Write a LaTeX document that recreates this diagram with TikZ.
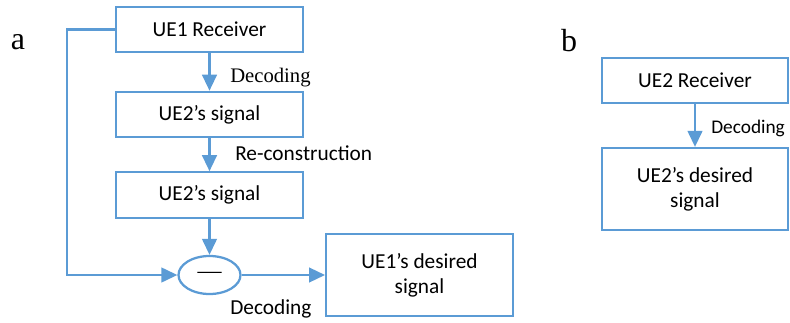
\documentclass[tikz,border=0pt]{standalone}
\usepackage{fontspec}
\setmainfont{Carlito}
\newfontfamily\tmsfont{Liberation Serif}
\usetikzlibrary{arrows.meta,shapes.geometric}
\definecolor{cline}{RGB}{91,155,213}
\tikzset{
  blk/.style={draw=cline,line width=1.7pt,minimum width=140pt,minimum height=34pt,align=center,font=\fontsize{16}{18.5}\selectfont},
  tallblk/.style={blk,minimum height=61.5pt},
  lab/.style={inner sep=0pt,anchor=base west,font=\fontsize{16}{18}\selectfont},
  arr/.style={draw=cline,line width=1.7pt,-{Triangle[length=12pt,width=11pt]}}
}
\begin{document}
\begin{tikzpicture}[x=0.75pt,y=-0.75pt]
\useasboundingbox (0,0) rectangle (790,322);

% panel letters
\node[inner sep=0pt,anchor=base,font=\tmsfont\fontsize{24}{26}\selectfont] (pa) at (18,49) {a};
\node[inner sep=0pt,anchor=base,font=\tmsfont\fontsize{24}{26}\selectfont] (pb) at (569,51) {b};

% panel a
\node[blk] (rx1) at (209.5,29.5) {UE1 Receiver};
\node[blk] (sig1) at (209.5,114.5) {UE2’s signal};
\node[blk] (sig2) at (209.5,195) {UE2’s signal};
\node[draw=cline,line width=1.7pt,ellipse,minimum width=46.5pt,minimum height=28.5pt,inner sep=0pt] (sub) at (209.5,275) {\tmsfont\fontsize{18}{20}\selectfont\textemdash};
\node[tallblk] (out1) at (419.5,275) {UE1’s desired\\signal};

\draw[arr] (rx1.south) -- (sig1.north);
\draw[arr] (sig1.south) -- (sig2.north);
\draw[arr] (sig2.south) -- (sub.north);
\draw[arr] (rx1.west) -- ++(-48,0) |- (sub.west);
\draw[arr] (sub.east) -- (out1.west);

\node[lab,font=\tmsfont\fontsize{15.5}{17}\selectfont] (dec1) at (230,82) {Decoding};
\node[lab] (rec) at (235,160) {Re-construction};
\node[lab] (dec2) at (230,314) {Decoding};

% panel b
\node[blk] (rx2) at (695,80.5) {UE2 Receiver};
\node[tallblk] (out2) at (695,189) {UE2’s desired\\signal};
\draw[arr] (rx2.south) -- (out2.north);
\node[lab,font=\fontsize{14.5}{17}\selectfont] (dec3) at (711,133) {Decoding};

\end{tikzpicture}
\end{document}
